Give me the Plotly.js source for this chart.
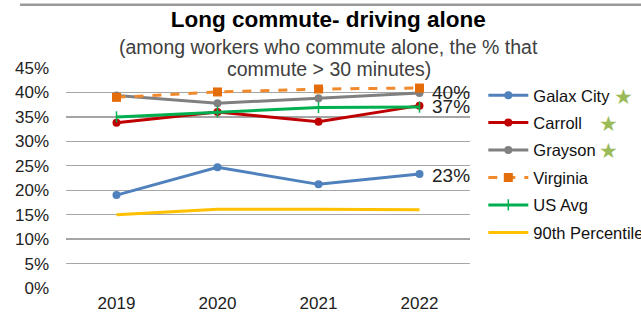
<!DOCTYPE html>
<html><head><meta charset="utf-8">
<script src="https://cdn.plot.ly/plotly-3.0.1.min.js"></script>
<style>html,body{margin:0;padding:0;background:#fff;}#chart{width:641px;height:317px;}</style>
</head><body><div id="chart"></div>
<script>
const years = [2019, 2020, 2021, 2022];
const galax = [0.190, 0.247, 0.212, 0.233];
const carroll = [0.338, 0.360, 0.340, 0.373];
const grayson = [0.394, 0.378, 0.388, 0.399];
const virginia = [0.390, 0.401, 0.407, 0.409];
const usAvg = [0.350, 0.360, 0.369, 0.370];
const pct90 = [0.150, 0.161, 0.161, 0.160];
const seriesNames = ['Galax City','Carroll','Grayson','Virginia','US Avg','90th Percentile'];
const endLabels = [{v: 0.399, t: '40%'}, {v: 0.372, t: '37%'}, {v: 0.231, t: '23%'}];

const font = 'Liberation Sans, Arial, sans-serif';
const specs = [
  {y: galax, line:{color:'#4F81BD', width:3}, marker:{symbol:'circle', size:8, color:'#4F81BD'}, mode:'lines+markers'},
  {y: carroll, line:{color:'#C00000', width:3}, marker:{symbol:'circle', size:8, color:'#C00000'}, mode:'lines+markers'},
  {y: grayson, line:{color:'#808080', width:3}, marker:{symbol:'circle', size:8, color:'#808080'}, mode:'lines+markers'},
  {y: virginia, line:{color:'#F08A2C', width:3, dash:'dash'}, marker:{symbol:'square', size:9, color:'#E46C0A'}, mode:'lines+markers'},
  {y: usAvg, line:{color:'#00B050', width:3}, marker:{symbol:'line-ns', size:8, color:'#00B050', line:{color:'#00B050', width:1.5}}, mode:'lines+markers'},
  {y: pct90, line:{color:'#FFC000', width:3}, marker:{size:1, color:'#FFC000'}, mode:'lines'}
];
const traces = specs.map((s,i) => ({
  x: years.slice(), y: s.y, name: seriesNames[i], type:'scatter', mode: s.mode,
  line: s.line, marker: s.marker, legendgroup:'g'+i, hoverinfo:'skip'
}));

const annotations = endLabels.map(l => ({x:2022, y:l.v, xref:'x', yref:'y', text:l.t, showarrow:false, xanchor:'left', yanchor:'middle', xshift:10, font:{family:font, size:19, color:'#222'}}));
const stars = [[1.381, 0.873], [1.344, 0.750], [1.342, 0.627]];
stars.forEach(s => annotations.push({x:s[0], y:s[1], xref:'paper', yref:'paper', text:'★', showarrow:false, xanchor:'center', yanchor:'middle', font:{size:21, color:'#9BBB59'}}));
annotations.push({x:0.65, xref:'paper', y:1.097, yref:'paper', text:'(among workers who commute alone, the % that', showarrow:false, xanchor:'center', yanchor:'middle', font:{family:font, size:19.5, color:'#404040'}});
annotations.push({x:0.65, xref:'paper', y:0.995, yref:'paper', text:'commute > 30 minutes)', showarrow:false, xanchor:'center', yanchor:'middle', font:{family:font, size:19.5, color:'#404040'}});

const layout = {
  width:641, height:317,
  margin:{l:66, r:171, t:68, b:29},
  paper_bgcolor:'#fff', plot_bgcolor:'#fff',
  title:{text:'<b>Long commute- driving alone</b>', x:0.512, xanchor:'center', y:0.94, yanchor:'middle', font:{family:font, size:22.5, color:'#000'}},
  xaxis:{range:[2018.5, 2022.5], tickvals: years, ticktext: years.map(String), showgrid:false, zeroline:false, showline:false, ticks:'', ticklabelstandoff:3, tickfont:{family:font, size:17, color:'#222'}},
  yaxis:{range:[0,0.45], dtick:0.05, tickformat:'.0%', showgrid:true, gridcolor:'#A6A6A6', gridwidth:1.3, zeroline:false, showline:false, ticks:'', ticklabelstandoff:16, tickfont:{family:font, size:17, color:'#222'}},
  legend:{xref:'container', x:0.754, y:0.955, xanchor:'left', yanchor:'top', itemwidth:40, font:{family:font, size:16.5, color:'#111'}, tracegroupgap:3, bgcolor:'rgba(0,0,0,0)'},
  showlegend:true,
  annotations: annotations,
  shapes:[{type:'line', xref:'paper', yref:'paper', x0:-0.114, x1:1.43, y0:1.287, y1:1.287, line:{color:'#999999', width:2.5}}]
};
Plotly.newPlot('chart', traces, layout, {staticPlot:true, displayModeBar:false});
</script></body></html>
